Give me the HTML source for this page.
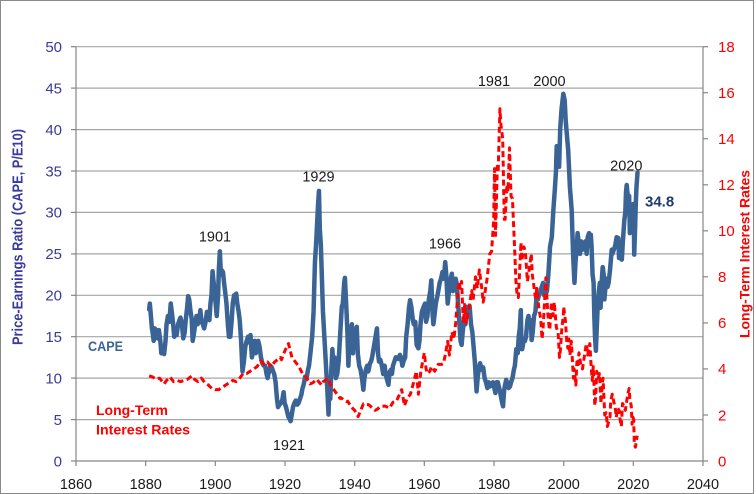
<!DOCTYPE html>
<html><head><meta charset="utf-8"><style>
html,body{margin:0;padding:0;background:#fff;}
svg{display:block;font-family:"Liberation Sans",Arial,sans-serif;}
</style></head><body>
<svg width="756" height="494" viewBox="0 0 756 494" xmlns="http://www.w3.org/2000/svg">
<rect x="0.5" y="0.5" width="753" height="493" fill="#fff" stroke="#8a8a8a" stroke-width="1"/>
<!-- gridlines -->
<g stroke="#a6a6a6" stroke-width="1.2">
<line x1="76" x2="703" y1="419.6" y2="419.6"/>
<line x1="76" x2="703" y1="378.1" y2="378.1"/>
<line x1="76" x2="703" y1="336.7" y2="336.7"/>
<line x1="76" x2="703" y1="295.3" y2="295.3"/>
<line x1="76" x2="703" y1="253.9" y2="253.9"/>
<line x1="76" x2="703" y1="212.4" y2="212.4"/>
<line x1="76" x2="703" y1="171.0" y2="171.0"/>
<line x1="76" x2="703" y1="129.6" y2="129.6"/>
<line x1="76" x2="703" y1="88.1" y2="88.1"/>
<line x1="76" x2="703" y1="46.7" y2="46.7"/>
</g>
<!-- axes -->
<g stroke="#868686" stroke-width="1.2">
<line x1="76" x2="76" y1="46.7" y2="461"/>
<line x1="703" x2="703" y1="46.7" y2="466"/>
<line x1="76" x2="708" y1="461" y2="461"/>
<line x1="71" x2="76" y1="461" y2="461"/>
<line x1="71" x2="76" y1="419.6" y2="419.6"/>
<line x1="71" x2="76" y1="378.1" y2="378.1"/>
<line x1="71" x2="76" y1="336.7" y2="336.7"/>
<line x1="71" x2="76" y1="295.3" y2="295.3"/>
<line x1="71" x2="76" y1="253.9" y2="253.9"/>
<line x1="71" x2="76" y1="212.4" y2="212.4"/>
<line x1="71" x2="76" y1="171.0" y2="171.0"/>
<line x1="71" x2="76" y1="129.6" y2="129.6"/>
<line x1="71" x2="76" y1="88.1" y2="88.1"/>
<line x1="71" x2="76" y1="46.7" y2="46.7"/>
<line x1="703" x2="708" y1="415.0" y2="415.0"/>
<line x1="703" x2="708" y1="368.9" y2="368.9"/>
<line x1="703" x2="708" y1="322.9" y2="322.9"/>
<line x1="703" x2="708" y1="276.8" y2="276.8"/>
<line x1="703" x2="708" y1="230.8" y2="230.8"/>
<line x1="703" x2="708" y1="184.8" y2="184.8"/>
<line x1="703" x2="708" y1="138.7" y2="138.7"/>
<line x1="703" x2="708" y1="92.7" y2="92.7"/>
<line x1="703" x2="708" y1="46.7" y2="46.7"/>
<line x1="76" x2="76" y1="461" y2="466"/>
<line x1="145.7" x2="145.7" y1="461" y2="466"/>
<line x1="215.3" x2="215.3" y1="461" y2="466"/>
<line x1="285" x2="285" y1="461" y2="466"/>
<line x1="354.7" x2="354.7" y1="461" y2="466"/>
<line x1="424.3" x2="424.3" y1="461" y2="466"/>
<line x1="494" x2="494" y1="461" y2="466"/>
<line x1="563.7" x2="563.7" y1="461" y2="466"/>
<line x1="633.3" x2="633.3" y1="461" y2="466"/>
</g>
<!-- left tick labels -->
<g fill="#3a3a9c" font-size="15" text-anchor="end">
<text x="62" y="466.3">0</text>
<text x="62" y="424.9">5</text>
<text x="62" y="383.4">10</text>
<text x="62" y="342">15</text>
<text x="62" y="300.6">20</text>
<text x="62" y="259.2">25</text>
<text x="62" y="217.7">30</text>
<text x="62" y="176.3">35</text>
<text x="62" y="134.9">40</text>
<text x="62" y="93.4">45</text>
<text x="62" y="52">50</text>
</g>
<!-- right tick labels -->
<g fill="#ff0000" font-size="15" text-anchor="start">
<text x="718" y="466.3">0</text>
<text x="718" y="420.3">2</text>
<text x="718" y="374.2">4</text>
<text x="718" y="328.2">6</text>
<text x="718" y="282.1">8</text>
<text x="718" y="236.1">10</text>
<text x="718" y="190.1">12</text>
<text x="718" y="144">14</text>
<text x="718" y="98">16</text>
<text x="718" y="52">18</text>
</g>
<!-- x labels -->
<g fill="#1a1a1a" font-size="14.5" text-anchor="middle">
<text x="76" y="489">1860</text>
<text x="145.7" y="489">1880</text>
<text x="215.3" y="489">1900</text>
<text x="285" y="489">1920</text>
<text x="354.7" y="489">1940</text>
<text x="424.3" y="489">1960</text>
<text x="494" y="489">1980</text>
<text x="563.7" y="489">2000</text>
<text x="633.3" y="489">2020</text>
<text x="703" y="489">2040</text>
</g>
<!-- axis titles -->
<text transform="translate(22.5,237) rotate(-90)" text-anchor="middle" font-size="15" font-weight="bold" fill="#3a3a9c" textLength="216" lengthAdjust="spacingAndGlyphs">Price-Earnings Ratio (CAPE, P/E10)</text>
<text transform="translate(749.5,254) rotate(-90)" text-anchor="middle" font-size="14" font-weight="bold" fill="#ff0000" textLength="168" lengthAdjust="spacingAndGlyphs">Long-Term Interest Rates</text>

<!-- CAPE series -->
<g transform="matrix(3.48333 0 0 -8.287 -6403 461)">
<polyline fill="none" stroke="#3a6496" stroke-width="4.5" stroke-linejoin="round" stroke-linecap="round" vector-effect="non-scaling-stroke" points="
1881.0,18.3 1881.2,19.0 1881.5,17.5 1881.8,16.0 1882.0,15.5 1882.3,14.5 1882.6,16.0 1883.0,15.8 1883.4,14.8 1883.8,15.8 1884.2,14.5 1884.5,13.0 1884.9,13.2 1885.3,12.9 1885.7,14.5 1886.0,16.5 1886.4,17.5 1886.8,16.8 1887.2,19.0 1887.5,18.0 1887.9,16.5 1888.2,15.0 1888.6,16.0 1888.9,15.2 1889.3,16.5 1889.7,17.0 1890.0,17.3 1890.4,16.5 1890.8,14.8 1891.2,15.5 1891.5,17.0 1891.9,18.5 1892.2,19.9 1892.5,19.5 1892.9,18.0 1893.2,17.2 1893.5,14.5 1893.9,15.5 1894.2,16.5 1894.6,17.5 1894.9,16.5 1895.3,16.8 1895.7,18.2 1896.0,17.0 1896.4,16.5 1896.8,16.0 1897.2,16.8 1897.6,18.0 1897.9,17.5 1898.3,17.0 1898.6,19.0 1898.9,20.0 1899.2,22.9 1899.4,22.0 1899.8,20.5 1900.1,19.0 1900.4,17.5 1900.8,20.0 1901.0,23.0 1901.3,25.3 1901.6,22.5 1901.9,23.0 1902.2,22.8 1902.5,21.5 1902.8,20.5 1903.2,19.0 1903.6,16.5 1903.9,15.0 1904.3,15.0 1904.7,17.0 1905.0,19.0 1905.4,20.0 1905.7,19.5 1906.0,20.2 1906.3,19.0 1906.7,18.0 1907.0,17.0 1907.4,14.5 1907.8,10.8 1908.2,12.0 1908.6,13.8 1909.0,14.5 1909.4,15.0 1909.7,14.3 1910.1,15.2 1910.5,12.5 1910.9,13.5 1911.3,14.5 1911.6,13.0 1911.9,13.3 1912.3,14.5 1912.7,13.8 1913.1,12.5 1913.5,11.8 1913.9,11.5 1914.3,11.5 1914.7,10.5 1915.0,10.0 1915.4,10.8 1915.8,11.5 1916.2,11.3 1916.6,10.8 1916.9,10.5 1917.3,9.5 1917.7,7.5 1918.0,6.5 1918.4,6.8 1918.8,7.0 1919.2,7.3 1919.6,8.3 1919.9,7.0 1920.3,6.5 1920.7,5.8 1921.0,5.3 1921.4,5.0 1921.6,4.8 1921.9,5.5 1922.3,6.5 1922.7,7.0 1923.1,7.3 1923.5,6.8 1923.9,7.0 1924.3,7.5 1924.7,8.0 1925.0,8.7 1925.4,9.3 1925.8,10.2 1926.2,10.0 1926.6,11.0 1926.9,11.5 1927.3,13.0 1927.8,15.0 1928.2,18.0 1928.6,24.0 1928.9,26.0 1929.2,28.5 1929.5,31.0 1929.75,32.6 1930.0,28.0 1930.3,26.0 1930.6,22.0 1930.9,18.0 1931.3,15.0 1931.7,12.0 1932.1,9.0 1932.5,5.6 1932.7,9.0 1933.0,7.5 1933.3,11.0 1933.6,13.5 1933.9,11.5 1934.2,12.5 1934.6,10.0 1935.0,10.5 1935.4,12.0 1935.8,15.0 1936.3,18.6 1936.6,19.0 1937.0,21.5 1937.2,22.1 1937.5,19.5 1937.9,15.8 1938.2,11.5 1938.5,14.5 1938.9,15.5 1939.2,16.5 1939.5,13.0 1939.8,15.5 1940.2,15.5 1940.6,16.2 1940.9,13.0 1941.3,11.5 1941.7,11.0 1942.1,10.0 1942.5,8.6 1942.8,10.0 1943.2,11.0 1943.6,11.5 1943.9,10.8 1944.4,11.8 1944.7,12.0 1945.0,12.5 1945.4,13.5 1945.8,14.5 1946.2,15.5 1946.4,16.0 1946.7,13.0 1947.0,12.0 1947.4,12.2 1947.8,11.5 1948.2,10.5 1948.6,11.5 1948.9,10.5 1949.3,9.8 1949.7,9.2 1950.0,10.7 1950.4,11.0 1950.7,10.5 1951.0,11.5 1951.4,12.0 1951.8,12.5 1952.2,12.5 1952.6,12.3 1953.0,12.8 1953.3,12.5 1953.7,11.5 1954.0,12.0 1954.5,12.5 1954.8,15.0 1955.2,16.5 1955.6,18.5 1955.9,19.4 1956.3,18.5 1956.7,17.0 1957.0,16.5 1957.4,16.8 1957.8,14.0 1958.3,13.6 1958.6,14.5 1958.9,16.5 1959.3,18.0 1959.7,18.5 1960.2,19.0 1960.5,16.8 1960.9,17.5 1961.3,19.5 1961.7,20.5 1962.0,21.8 1962.4,17.5 1962.6,16.5 1962.9,17.5 1963.3,19.0 1963.7,19.8 1964.0,20.5 1964.4,21.5 1964.8,22.0 1965.2,22.8 1965.6,22.0 1966.0,24.0 1966.3,22.5 1966.7,19.0 1966.9,19.8 1967.3,21.5 1967.9,22.6 1968.2,20.5 1968.6,21.8 1969.0,22.0 1969.3,21.4 1969.7,19.0 1970.0,17.0 1970.4,14.5 1970.7,14.0 1971.0,15.5 1971.4,17.0 1971.8,16.5 1972.2,18.6 1972.7,18.2 1973.0,18.7 1973.4,16.5 1973.8,15.5 1974.1,14.0 1974.5,12.0 1975.0,8.4 1975.3,10.0 1975.6,11.0 1976.0,11.8 1976.5,11.0 1976.9,11.3 1977.3,10.0 1977.7,9.5 1978.1,8.8 1978.5,9.5 1978.9,9.0 1979.3,9.2 1979.7,9.5 1980.1,8.8 1980.4,8.2 1980.8,9.5 1981.1,9.5 1981.5,8.8 1981.9,8.0 1982.2,7.3 1982.6,6.6 1982.9,8.5 1983.1,9.0 1983.5,9.8 1983.9,9.3 1984.2,8.8 1984.6,9.0 1984.9,9.5 1985.3,10.0 1985.7,11.0 1986.0,11.5 1986.4,13.5 1986.8,13.0 1987.1,15.0 1987.4,16.0 1987.7,18.2 1987.9,13.5 1988.1,13.5 1988.5,14.5 1988.9,14.5 1989.2,15.0 1989.6,17.0 1989.9,17.5 1990.2,16.5 1990.6,17.0 1990.8,14.6 1991.1,15.5 1991.5,17.5 1991.9,18.0 1992.2,19.8 1992.6,19.5 1992.9,20.0 1993.3,20.5 1993.7,21.0 1994.1,21.5 1994.4,20.0 1994.8,20.2 1995.2,20.5 1995.6,22.5 1996.1,25.9 1996.6,27.0 1997.0,30.0 1997.5,33.0 1997.8,35.0 1998.0,38.0 1998.4,37.5 1998.7,35.5 1999.0,40.0 1999.4,42.5 1999.9,44.3 2000.3,43.5 2000.6,41.0 2001.0,39.0 2001.3,37.5 2001.8,33.0 2002.3,30.3 2002.7,25.0 2003.1,21.5 2003.4,24.0 2003.7,25.5 2004.0,27.5 2004.3,26.5 2004.7,25.0 2005.0,26.5 2005.4,25.5 2005.8,25.8 2006.2,26.5 2006.6,25.0 2006.9,27.0 2007.3,27.5 2007.6,26.5 2007.8,27.3 2008.0,26.0 2008.3,22.5 2008.6,21.5 2008.8,17.5 2009.0,15.0 2009.25,13.3 2009.5,16.0 2009.8,19.0 2010.1,20.5 2010.4,21.5 2010.6,18.5 2010.9,21.5 2011.2,23.4 2011.5,22.5 2011.7,19.5 2012.0,21.0 2012.3,22.0 2012.6,21.0 2012.9,21.5 2013.3,23.0 2013.8,25.5 2014.0,25.0 2014.4,25.5 2014.8,26.0 2015.2,27.0 2015.7,26.9 2015.9,24.5 2016.2,24.5 2016.7,24.3 2017.0,26.5 2017.4,29.0 2017.7,30.0 2017.9,32.5 2018.1,33.3 2018.4,32.0 2018.8,32.0 2019.0,27.5 2019.2,30.0 2019.5,30.5 2019.9,31.0 2020.1,31.0 2020.25,24.9 2020.5,28.0 2020.7,31.0 2020.9,33.0 2021.2,34.8"/>
</g>

<!-- Interest rate series -->
<g transform="matrix(3.48333 0 0 -23.02 -6403 461)">
<polyline fill="none" stroke="#ff0000" stroke-width="3" stroke-dasharray="6 3.5" stroke-linejoin="round" vector-effect="non-scaling-stroke" points="
1881.0,3.7 1882,3.65 1883,3.55 1884,3.6 1885.3,3.35 1886,3.5 1887,3.65 1888,3.45 1889,3.5 1890,3.45 1891,3.5 1892,3.55 1893.3,3.7 1894,3.55 1895,3.45 1896,3.6 1897,3.4 1898,3.3 1899,3.15 1900,3.1 1901,3.1 1902,3.2 1903,3.3 1904,3.4 1905,3.5 1906,3.45 1907,3.6 1908,3.8 1909,3.8 1910,3.9 1911,4.0 1912,4.1 1913,4.35 1914,4.2 1915,4.3 1916,4.1 1917,4.3 1918.6,4.5 1919,4.4 1920,4.8 1921,5.1 1922,4.5 1923,4.3 1924,4.1 1925,3.8 1926,3.65 1927.2,3.35 1928,3.4 1929.1,3.55 1930.5,3.3 1931,3.45 1932.4,3.6 1933,3.3 1934,3.1 1935.8,2.72 1936,2.75 1937.7,2.58 1938,2.6 1939,2.35 1940,2.2 1941,1.93 1942.5,2.48 1943,2.45 1944,2.45 1945.9,2.2 1946.5,2.25 1947.3,2.36 1948.7,2.39 1950,2.3 1951,2.55 1952,2.6 1953.5,3.1 1954.3,2.4 1955,2.7 1956,2.9 1956.9,3.4 1957.7,3.9 1958.3,2.9 1959,3.9 1960.0,4.7 1960.5,4.0 1961,3.8 1961.6,3.9 1962,4.1 1963,3.9 1964,4.2 1965,4.2 1965.5,4.24 1966,4.6 1966.7,5.2 1967.2,4.6 1967.9,5.6 1968.5,5.3 1969,6.0 1969.9,7.8 1970.3,7.5 1970.7,7.8 1971.2,6.0 1971.6,6.8 1972,6.0 1972.7,6.5 1973.6,7.4 1974,7.0 1974.7,8.0 1975.2,7.5 1975.8,8.3 1976.5,7.5 1976.9,6.9 1977.5,7.4 1978,7.9 1978.8,9.0 1979.3,9.1 1979.9,10.4 1980.15,12.7 1980.45,9.8 1980.95,12.8 1981.2,12.6 1981.7,15.3 1982.0,14.6 1982.5,14.0 1982.95,10.5 1983.2,10.5 1983.7,12.0 1984.0,11.7 1984.45,13.6 1984.9,11.5 1985.3,11.4 1985.9,9.3 1986.3,7.8 1986.6,7.3 1987.0,7.1 1987.75,9.5 1988.0,8.7 1988.6,9.3 1989.0,9.1 1989.6,7.8 1990.0,8.2 1990.7,9.0 1991.0,8.1 1991.9,7.1 1992.3,7.5 1992.9,6.6 1993.4,6.2 1993.8,5.3 1994.1,5.8 1994.9,7.96 1995.4,6.5 1995.9,5.7 1996.0,5.7 1996.5,6.9 1996.9,6.3 1997.3,6.9 1997.9,5.8 1998.4,5.6 1998.8,4.5 1999.0,4.7 1999.5,5.8 1999.9,6.3 2000.0,6.7 2000.5,6.1 2000.9,5.2 2001.2,4.9 2001.5,5.3 2001.8,4.6 2002.2,5.2 2002.8,3.6 2003.0,4.0 2003.5,3.3 2003.8,4.3 2004.0,4.1 2004.4,4.7 2004.9,4.2 2005.4,4.0 2005.9,4.5 2006.5,5.1 2006.9,4.6 2007.5,5.1 2007.9,4.1 2008.2,3.5 2008.5,4.1 2008.95,2.4 2009.2,2.8 2009.5,3.9 2009.9,3.6 2010.3,3.8 2010.7,2.5 2011.1,3.4 2011.3,3.6 2011.8,2.0 2012.2,2.1 2012.55,1.5 2012.9,1.7 2013.3,1.9 2013.5,2.6 2013.95,2.9 2014.5,2.5 2014.9,2.2 2015.1,1.9 2015.5,2.3 2015.9,2.2 2016.2,1.8 2016.55,1.5 2016.9,2.5 2017.3,2.4 2017.7,2.2 2018.1,2.6 2018.4,2.9 2018.8,3.15 2019.0,2.7 2019.4,2.4 2019.65,1.6 2019.9,1.9 2020.1,1.8 2020.3,0.7 2020.6,0.6 2020.9,0.9 2021.1,1.1"/>
</g>

<!-- annotations -->
<g fill="#1a1a1a" font-size="14.5" text-anchor="middle">
<text x="215" y="241.5">1901</text>
<text x="318.5" y="181.7">1929</text>
<text x="289" y="450">1921</text>
<text x="445" y="248.3">1966</text>
<text x="494" y="86">1981</text>
<text x="549.5" y="86">2000</text>
<text x="626.3" y="170.7">2020</text>
</g>
<text x="645" y="206.7" font-size="15" font-weight="bold" fill="#1f3a6e">34.8</text>
<text x="88" y="351" font-size="13.5" font-weight="bold" fill="#3a6496" textLength="35" lengthAdjust="spacingAndGlyphs">CAPE</text>
<text x="96" y="415" font-size="14" font-weight="bold" fill="#ff0000" textLength="72" lengthAdjust="spacingAndGlyphs">Long-Term</text>
<text x="96" y="434.5" font-size="14" font-weight="bold" fill="#ff0000" textLength="94" lengthAdjust="spacingAndGlyphs">Interest Rates</text>
</svg>
</body></html>
